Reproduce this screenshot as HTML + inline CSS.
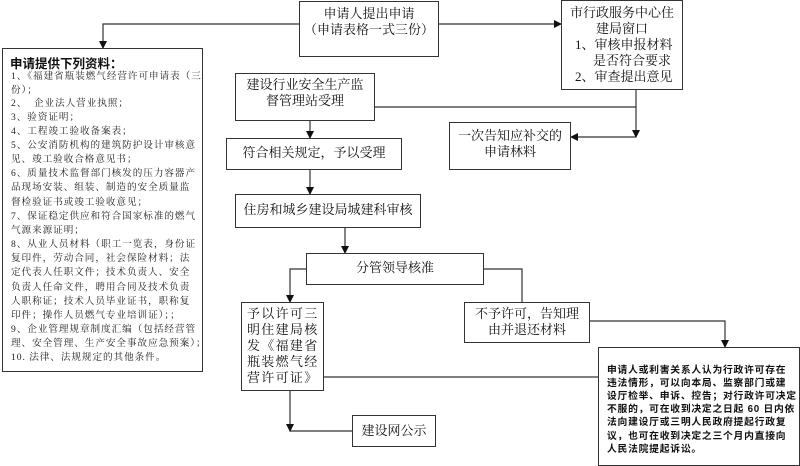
<!DOCTYPE html>
<html><head><meta charset="utf-8">
<style>
*{margin:0;padding:0;box-sizing:border-box}
body{width:800px;height:466px;background:#fff;position:relative;overflow:hidden;font-family:"Liberation Serif","Noto Serif CJK SC","Noto Sans CJK SC",serif;color:#111}
.b{position:absolute;border:1.3px solid #333;background:#fff}
.t{position:absolute;white-space:nowrap;font-size:13px;line-height:16px}
.c{text-align:center;width:100%;left:0}
.s{position:absolute;left:8px;white-space:nowrap;font-size:9.6px;letter-spacing:0.95px;line-height:12px;color:#222}
.j{position:absolute;left:8px;white-space:nowrap;font-size:9.8px;font-weight:bold;letter-spacing:0.75px;line-height:12px}
svg{position:absolute;left:0;top:0}
</style></head><body>
<svg width="800" height="466">
<defs><marker id="a" markerWidth="8" markerHeight="8" refX="7" refY="4" orient="auto" markerUnits="userSpaceOnUse"><path d="M0,0 L8,4 L0,8z" fill="#111"/></marker></defs>
<g stroke="#333" stroke-width="1.2" fill="none">
<path d="M299,24 H103 V48" marker-end="url(#a)"/>
<path d="M439,24 H561" marker-end="url(#a)"/>
<path d="M375,107 H636"/>
<path d="M636,90 V137" marker-end="url(#a)"/>
<path d="M636,137 H571" marker-end="url(#a)"/>
<path d="M310,121 V138" marker-end="url(#a)"/>
<path d="M310,170 V194" marker-end="url(#a)"/>
<path d="M345,228 V253" marker-end="url(#a)"/>
<path d="M306,269 H290 V302" marker-end="url(#a)"/>
<path d="M484,269 H522 V302"/>
<path d="M590,321 H725 V347" marker-end="url(#a)"/>
<path d="M324,377 H598"/>
<path d="M290,391 V431 H352" />
<path d="M290,424 V431" marker-end="url(#a)"/>
</g>
</svg>

<div class="b" style="left:2px;top:48px;width:201px;height:324px">
<div style="position:absolute;left:7px;top:4px;font-size:12.5px;font-weight:bold;font-family:'Liberation Sans','Noto Sans CJK SC',sans-serif;white-space:nowrap">申请提供下列资料：</div>
<div class="s" style="top:22px">1、《福建省瓶装燃气经营许可申请表（三</div>
<div class="s" style="top:36px">份）；</div>
<div class="s" style="top:49px">2、&nbsp; 企业法人营业执照；</div>
<div class="s" style="top:63px">3、验资证明；</div>
<div class="s" style="top:77px">4、工程竣工验收备案表；</div>
<div class="s" style="top:91px">5、公安消防机构的建筑防护设计审核意</div>
<div class="s" style="top:105px">见、竣工验收合格意见书；</div>
<div class="s" style="top:119px">6、质量技术监督部门核发的压力容器产</div>
<div class="s" style="top:133px">品现场安装、组装、制造的安全质量监</div>
<div class="s" style="top:148px">督检验证书或竣工验收意见；</div>
<div class="s" style="top:162px">7、保证稳定供应和符合国家标准的燃气</div>
<div class="s" style="top:176px">气源来源证明；</div>
<div class="s" style="top:190px">8、从业人员材料（职工一览表，身份证</div>
<div class="s" style="top:204px">复印件，劳动合同，社会保险材料；法</div>
<div class="s" style="top:218px">定代表人任职文件；技术负责人、安全</div>
<div class="s" style="top:233px">负责人任命文件，聘用合同及技术负责</div>
<div class="s" style="top:247px">人职称证；技术人员毕业证书，职称复</div>
<div class="s" style="top:261px">印件；操作人员燃气专业培训证）；；</div>
<div class="s" style="top:275px">9、企业管理规章制度汇编（包括经营管</div>
<div class="s" style="top:289px">理、安全管理、生产安全事故应急预案）；</div>
<div class="s" style="top:303px">10. 法律、法规规定的其他条件。</div>
</div>

<div class="b" style="left:299px;top:1px;width:140px;height:56px">
<div class="t c" style="top:4px">申请人提出申请</div>
<div class="t c" style="top:20px">（申请表格一式三份）</div></div>

<div class="b" style="left:561px;top:0;width:122px;height:90px">
<div class="t c" style="top:4px">市行政服务中心住</div>
<div class="t c" style="top:20px">建局窗口</div>
<div class="t" style="left:13px;top:36px">1、审核申报材料</div>
<div class="t" style="left:31px;top:52px">是否符合要求</div>
<div class="t" style="left:13px;top:68px">2、审查提出意见</div></div>

<div class="b" style="left:235px;top:73px;width:140px;height:48px">
<div class="t c" style="top:3px">建设行业安全生产监</div>
<div class="t c" style="top:19px">督管理站受理</div></div>

<div class="b" style="left:449px;top:122px;width:122px;height:48px">
<div class="t c" style="top:5px">一次告知应补交的</div>
<div class="t c" style="top:21px">申请林料</div></div>

<div class="b" style="left:226px;top:138px;width:176px;height:32px">
<div class="t c" style="top:6px">符合相关规定，予以受理</div></div>

<div class="b" style="left:235px;top:194px;width:186px;height:34px">
<div class="t c" style="top:7px">住房和城乡建设局城建科审核</div></div>

<div class="b" style="left:306px;top:253px;width:178px;height:32px">
<div class="t c" style="top:6px">分管领导核准</div></div>

<div class="b" style="left:241px;top:302px;width:83px;height:89px;letter-spacing:1.3px">
<div class="t" style="left:5px;top:3px">予以许可三</div>
<div class="t" style="left:5px;top:19px">明住建局核</div>
<div class="t" style="left:5px;top:35px">发《福建省</div>
<div class="t" style="left:5px;top:51px">瓶装燃气经</div>
<div class="t" style="left:5px;top:67px">营许可证》</div></div>

<div class="b" style="left:464px;top:302px;width:126px;height:41px">
<div class="t c" style="top:3px">不予许可，告知理</div>
<div class="t c" style="top:19px">由并退还材料</div></div>

<div class="b" style="left:352px;top:415px;width:84px;height:32px">
<div class="t c" style="top:7px">建设网公示</div></div>

<div class="b" style="left:598px;top:347px;width:202px;height:119px;font-family:'Liberation Sans','Noto Sans CJK SC',sans-serif">
<div class="j" style="top:17px">申请人或利害关系人认为行政许可存在</div>
<div class="j" style="top:30px">违法情形，可以向本局、监察部门或建</div>
<div class="j" style="top:43px">设厅检举、申诉、控告；对行政许可决定</div>
<div class="j" style="top:56px">不服的，可在收到决定之日起 60 日内依</div>
<div class="j" style="top:69px">法向建设厅或三明人民政府提起行政复</div>
<div class="j" style="top:83px">议，也可在收到决定之三个月内直接向</div>
<div class="j" style="top:96px">人民法院提起诉讼。</div></div>
</body></html>
